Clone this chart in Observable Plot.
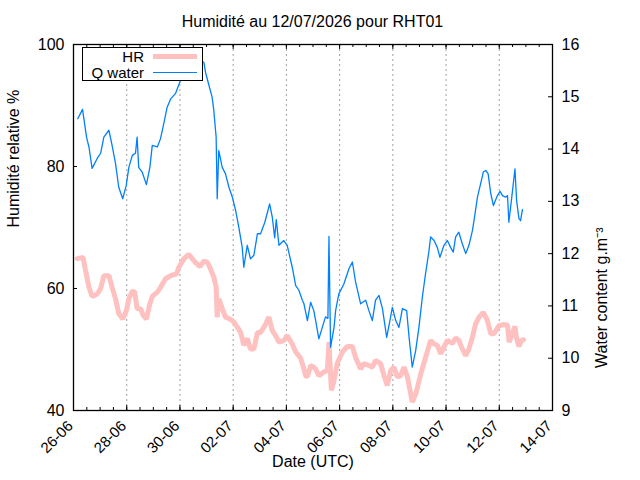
<!DOCTYPE html>
<html>
<head>
<meta charset="utf-8">
<script src="https://cdn.jsdelivr.net/npm/d3@7"></script>
<script src="https://cdn.jsdelivr.net/npm/@observablehq/plot@0.6"></script>
<style>
  html, body { margin: 0; padding: 0; background: #fff; }
  #wrap { position: relative; width: 640px; height: 480px; font-family: "Liberation Sans", Arial, Helvetica, sans-serif; color: #000; }
  #title { position: absolute; left: 73px; width: 479px; top: 0; height: 40px; padding-top: 4px; box-sizing: border-box; line-height: 36px; font-size: 16px; text-align: center; white-space: nowrap; }
  #chart { position: absolute; left: 0; top: 40px; }
  #legend { position: absolute; left: 82px; top: 47px; width: 121px; height: 34px; box-sizing: border-box; border: 1.3px solid #000; background: #fff; font-size: 15px; }
  .row { position: absolute; left: 0; width: 100%; height: 17px; }
  .row .lab { position: absolute; right: 58px; top: 0; line-height: 17px; white-space: nowrap; }
  .row .smp { position: absolute; left: 70px; width: 44px; }
</style>
</head>
<body>
<div id="wrap">
  <div id="title">Humidité au 12/07/2026 pour RHT01</div>
  <div id="chart"></div>
  <div id="legend">
    <div class="row" style="top:0px"><span class="lab">HR</span><span class="smp" style="top:6px;height:5px;background:#ffc0c0"></span></div>
    <div class="row" style="top:16px"><span class="lab">Q water</span><span class="smp" style="top:8px;height:1.4px;background:#0080ff"></span></div>
  </div>
</div>
<script>
// ---- data (time = days since 26-06-2026 00:00 UTC) ----
const hrDays = [0.14,0.36,0.45,0.58,0.70,0.89,1.02,1.14,1.33,1.45,1.58,1.70,1.85,1.99,2.08,2.21,2.30,2.39,2.52,2.62,2.74,2.87,2.96,3.15,3.27,3.46,3.65,3.87,3.96,4.15,4.33,4.46,4.62,4.75,4.90,5.03,5.15,5.27,5.36,5.40,5.46,5.59,5.71,5.88,6.03,6.15,6.28,6.40,6.53,6.65,6.78,6.91,7.03,7.19,7.34,7.47,7.59,7.72,7.91,8.03,8.22,8.35,8.53,8.66,8.72,8.79,8.91,9.03,9.10,9.22,9.41,9.54,9.60,9.69,9.79,9.91,10.10,10.29,10.48,10.60,10.79,10.91,11.10,11.23,11.35,11.54,11.67,11.79,11.92,12.04,12.17,12.29,12.42,12.55,12.73,12.86,13.05,13.23,13.42,13.55,13.67,13.80,13.92,14.05,14.24,14.36,14.48,14.61,14.74,14.86,14.99,15.11,15.24,15.40,15.55,15.68,15.80,15.99,16.18,16.31,16.37,16.49,16.59,16.65,16.74,16.83,16.91];
const hrValues = [64.9,65.1,63.0,60.2,58.7,59.1,60.0,62.1,62.1,60.2,58.3,55.9,55.0,56.4,58.3,59.6,59.4,56.7,56.7,55.6,55.0,57.5,58.7,59.4,60.2,61.6,62.1,62.4,63.5,64.9,65.6,64.9,64.1,63.6,64.5,64.3,63.2,61.9,60.2,55.3,58.3,56.7,55.3,55.0,54.5,53.7,52.8,50.7,51.8,50.1,50.1,52.8,52.8,53.9,55.3,53.1,52.3,51.2,51.5,52.3,50.9,49.6,48.6,46.8,45.7,45.5,47.4,47.1,46.8,45.7,46.3,46.6,51.2,43.3,44.9,47.7,49.6,50.5,50.5,48.7,46.8,47.7,47.4,47.1,48.2,47.7,45.7,44.1,46.6,47.1,45.5,45.7,47.1,45.5,41.4,42.7,46.0,48.7,51.5,50.9,50.7,49.3,50.4,51.5,51.0,51.9,51.5,50.1,49.0,50.1,52.0,54.2,55.3,56.1,54.8,52.6,52.6,53.9,54.1,54.0,51.2,52.6,53.8,51.8,50.5,51.5,51.6];

const qDays = [0.16,0.34,0.49,0.58,0.70,0.89,1.02,1.14,1.33,1.45,1.58,1.70,1.85,1.98,2.08,2.21,2.33,2.39,2.45,2.58,2.74,2.87,2.96,3.15,3.27,3.39,3.52,3.65,3.83,4.02,4.32,4.66,4.90,4.96,5.09,5.21,5.27,5.36,5.40,5.46,5.59,5.71,5.84,5.97,6.09,6.21,6.34,6.40,6.53,6.65,6.78,6.91,7.03,7.19,7.37,7.47,7.56,7.62,7.72,7.90,8.03,8.22,8.35,8.47,8.60,8.66,8.79,8.91,9.03,9.10,9.22,9.35,9.47,9.56,9.60,9.66,9.79,9.85,9.97,10.16,10.35,10.48,10.60,10.79,10.98,11.10,11.23,11.35,11.48,11.61,11.77,11.89,11.98,12.11,12.23,12.36,12.52,12.61,12.73,12.86,12.98,13.11,13.23,13.36,13.42,13.55,13.67,13.77,13.92,14.05,14.17,14.27,14.36,14.48,14.61,14.74,14.86,14.99,15.05,15.18,15.30,15.40,15.49,15.58,15.68,15.78,15.93,16.03,16.12,16.24,16.31,16.36,16.47,16.59,16.65,16.74,16.80,16.87];
const qValues = [14.58,14.76,14.23,14.04,13.63,13.82,13.92,14.23,14.36,14.07,13.72,13.27,13.05,13.30,13.65,13.88,13.92,14.23,13.65,13.56,13.32,13.65,14.07,14.04,14.20,14.48,14.80,14.96,15.06,15.31,15.45,15.72,15.66,15.47,15.22,14.99,14.75,14.23,13.05,13.97,13.65,13.53,13.27,13.08,12.83,12.51,12.12,11.74,12.16,11.90,11.97,12.38,12.38,12.60,12.95,12.70,12.30,12.65,12.16,12.25,12.16,11.74,11.39,11.30,11.11,11.04,10.72,11.07,10.91,10.72,10.37,10.59,10.79,10.76,12.33,10.21,10.59,10.91,11.23,11.42,11.71,11.84,11.46,11.04,11.11,10.91,10.72,11.11,11.20,10.95,10.40,10.72,10.97,10.72,10.59,10.95,10.91,10.40,9.83,10.15,10.59,11.17,11.62,12.06,12.32,12.25,12.12,11.93,12.16,12.25,12.12,12.03,12.32,12.41,12.19,12.00,12.16,12.44,12.63,13.08,13.34,13.56,13.59,13.53,13.15,12.92,13.11,13.19,13.11,13.08,13.11,12.60,13.08,13.62,13.02,12.67,12.63,12.84];

const xTickLabels = ["26-06","28-06","30-06","02-07","04-07","06-07","08-07","10-07","12-07","14-07"];
const hrTicks = [40, 60, 80, 100];
const qTicks = [9, 10, 11, 12, 13, 14, 15, 16];

// ---- build ----
const t0 = Date.UTC(2026, 5, 26);
const toDate = d => new Date(t0 + d * 864e5);
const parseLabel = s => { const [dd, mm] = s.split("-").map(Number); return new Date(Date.UTC(2026, mm - 1, dd)); };
const majorDates = xTickLabels.map(parseLabel);
const xStart = majorDates[0], xEnd = majorDates[majorDates.length - 1];
const minorDates = d3.utcHour.every(12).range(xStart, xEnd);
const labelOf = new Map(majorDates.map((d, i) => [+d, xTickLabels[i]]));

const hrTable = hrDays.map((d, i) => ({date: toDate(d), v: hrValues[i]}));
const qTable = qDays.map((d, i) => ({date: toDate(d), v: qValues[i]}));

const toHR = d3.scaleLinear([qTicks[0], qTicks[qTicks.length - 1]], [hrTicks[0], hrTicks[hrTicks.length - 1]]);

const W = 640, H = 440, mL = 73, mR = 88, mT = 4, mB = 70;
const fw = W - mL - mR, fh = H - mT - mB;
const font = '"Liberation Sans", Arial, Helvetica, sans-serif';

const chart = Plot.plot({
  width: W, height: H,
  marginLeft: mL, marginRight: mR, marginTop: mT, marginBottom: mB,
  style: {fontFamily: font, fontSize: "16px", color: "#000", background: "#fff", overflow: "visible"},
  x: {type: "utc", domain: [xStart, xEnd]},
  y: {domain: [hrTicks[0], hrTicks[hrTicks.length - 1]]},
  marks: [
    Plot.ruleX(majorDates.slice(1, -1), {stroke: "#a0a0a0", strokeWidth: 1, strokeDasharray: "2,3"}),
    Plot.lineY(hrTable, {x: "date", y: "v", stroke: "#ffc0c0", strokeWidth: 5, strokeLinejoin: "miter"}),
    Plot.lineY(qTable, {x: "date", y: d => toHR(d.v), stroke: "#0080ff", strokeWidth: 1.3}),
    // inward tick marks
    Plot.ruleX(minorDates, {stroke: "#000", insetTop: fh - 3}),
    Plot.ruleX(minorDates, {stroke: "#000", insetBottom: fh - 3}),
    Plot.ruleX(majorDates, {stroke: "#000", insetTop: fh - 5}),
    Plot.ruleX(majorDates, {stroke: "#000", insetBottom: fh - 5}),
    Plot.ruleY(hrTicks, {stroke: "#000", insetRight: fw - 4}),
    Plot.ruleY(qTicks.map(toHR), {stroke: "#000", insetLeft: fw - 4}),
    Plot.frame({stroke: "#000", strokeWidth: 1.3}),
    // axes
    Plot.axisY(hrTicks, {anchor: "left", tickSize: 0, tickPadding: 9, label: null, fontSize: 16}),
    Plot.axisY(qTicks.map(toHR), {anchor: "right", tickSize: 0, tickPadding: 9, label: null, fontSize: 16,
      tickFormat: d => String(Math.round(toHR.invert(d)))}),
    Plot.axisX(majorDates, {anchor: "bottom", tickSize: 0, tickPadding: 13, tickRotate: -45, label: null, fontSize: 15,
      dx: -3, tickFormat: d => labelOf.get(+d)}),
    // axis titles
    Plot.text(["Date (UTC)"], {frameAnchor: "bottom", dy: 56, text: d => d, fontSize: 16}),
    Plot.text(["Humidité relative %"], {frameAnchor: "left", dx: -60, rotate: -90, text: d => d, fontSize: 16}),
    Plot.text(["Water content g.m⁻³"], {frameAnchor: "right", dx: 49, rotate: -90, text: d => d, fontSize: 16})
  ]
});
document.getElementById("chart").appendChild(chart);
</script>
</body>
</html>
